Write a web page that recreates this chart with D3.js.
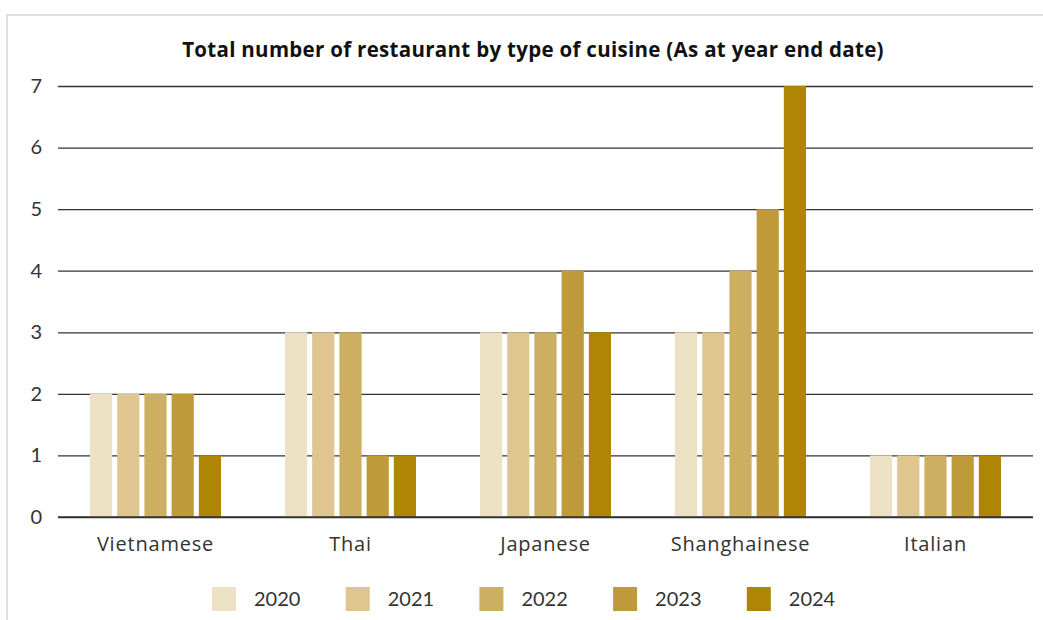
<!DOCTYPE html>
<html lang="en">
<head>
    <meta charset="UTF-8">
    <title>Restaurants by cuisine</title>
    <script src="https://cdn.jsdelivr.net/npm/d3@7/dist/d3.min.js"></script>
    <style>
        body { margin: 0; background: #fff; }
    </style>
</head>
<body>
<div id="chart"></div>
<script>

    const cuisines = ["Vietnamese", "Thai", "Japanese", "Shanghainese", "Italian"];
    const years = ["2020", "2021", "2022", "2023", "2024"];
    const counts2020 = [2, 3, 3, 3, 1];
    const counts2021 = [2, 3, 3, 3, 1];
    const counts2022 = [2, 3, 3, 4, 1];
    const counts2023 = [2, 1, 4, 5, 1];
    const counts2024 = [1, 1, 3, 7, 1];
    const yTicks = [0, 1, 2, 3, 4, 5, 6, 7];
    const colors = ["#ECE1C3", "#DFC590", "#CDAF62", "#BF9A3A", "#AE8505"];

    const series = [counts2020, counts2021, counts2022, counts2023, counts2024];

    const width = 1043;
    const height = 620;
    const margin = {top: 86, right: 10, bottom: 103, left: 58};

    const svg = d3.select("#chart")
        .append("svg")
        .attr("width", width)
        .attr("height", height);

    // light frame around the chart
    svg.append("rect")
        .attr("x", 7)
        .attr("y", 15)
        .attr("width", width + 20)
        .attr("height", height + 20)
        .attr("fill", "none")
        .attr("stroke", "#e0e0e0")
        .attr("stroke-width", 2);

    svg.append("text")
        .attr("x", 533)
        .attr("y", 57)
        .attr("text-anchor", "middle")
        .style("font-size", "20.5px")
        .style("font-weight", "bold")
        .style("font-family", "'Open Sans', sans-serif")
        .style("letter-spacing", "0.3px")
        .attr("fill", "#111")
        .text("Total number of restaurant by type of cuisine (As at year end date)");

    const x0 = d3.scaleBand()
        .domain(cuisines)
        .range([margin.left, width - margin.right])
        .paddingInner(0)
        .paddingOuter(0);

    const x1 = d3.scaleBand()
        .domain(years)
        .range([0, 131])
        .paddingInner(0.185);

    const y = d3.scaleLinear()
        .domain([0, 7])
        .range([height - margin.bottom, margin.top]);

    // gridlines + y labels
    const gy = svg.append("g")
        .attr("transform", `translate(${margin.left},0)`)
        .call(d3.axisLeft(y).tickValues(yTicks).tickFormat(d3.format("d"))
            .tickSize(-(width - margin.left - margin.right)).tickPadding(16))
        .call(g => g.select(".domain").remove());
    gy.selectAll(".tick line").attr("stroke", "#333").attr("stroke-width", 1.3);
    gy.selectAll(".tick text")
        .attr("fill", "#333")
        .style("font-size", "20px")
        .style("font-family", "Lato, sans-serif");

    const groups = svg.append("g")
        .selectAll("g")
        .data(cuisines)
        .join("g")
        .attr("transform", d => `translate(${x0(d) + (x0.bandwidth() - 131) / 2},0)`);

    groups.selectAll("rect")
        .data((d, i) => years.map((yr, j) => ({year: yr, value: series[j][i], color: colors[j]})))
        .join("rect")
        .attr("x", d => x1(d.year))
        .attr("width", x1.bandwidth())
        .attr("y", d => y(d.value))
        .attr("height", d => y(0) - y(d.value))
        .attr("fill", d => d.color);

    // redraw the zero line on top
    svg.append("line")
        .attr("x1", margin.left)
        .attr("x2", width - margin.right)
        .attr("y1", y(0))
        .attr("y2", y(0))
        .attr("stroke", "#333")
        .attr("stroke-width", 1.3);

    const gx = svg.append("g")
        .attr("transform", `translate(0,${y(0)})`)
        .call(d3.axisBottom(x0).tickSize(0).tickPadding(20))
        .call(g => g.select(".domain").remove());
    gx.selectAll(".tick text")
        .attr("fill", "#333")
        .style("font-size", "20px")
        .style("letter-spacing", "0.8px")
        .style("font-family", "'Open Sans', sans-serif");

    // legend
    const legend = svg.append("g")
        .selectAll("g")
        .data(years)
        .join("g")
        .attr("transform", (d, i) => `translate(${212 + i * 133.7},587)`);

    legend.append("rect")
        .attr("width", 24)
        .attr("height", 24)
        .attr("fill", (d, i) => colors[i]);

    legend.append("text")
        .attr("x", 42)
        .attr("y", 19)
        .attr("fill", "#333")
        .style("font-size", "20px")
        .style("font-family", "Lato, sans-serif")
        .text(d => d);

</script>
</body>
</html>
